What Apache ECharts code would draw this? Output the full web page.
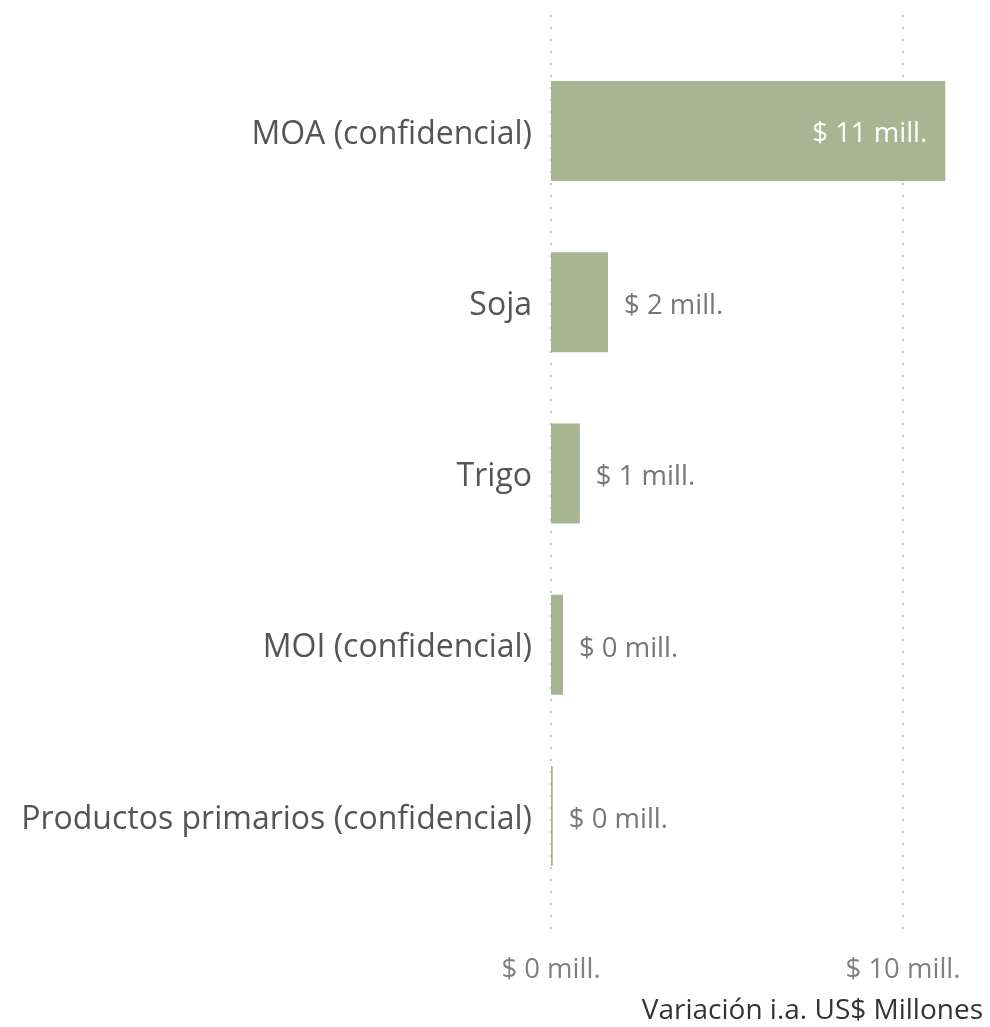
<!DOCTYPE html>
<html>
<head>
<meta charset="utf-8">
<script src="https://cdn.jsdelivr.net/npm/echarts@6/dist/echarts.min.js"></script>
<style>html,body{margin:0;padding:0;background:#fff;}#c{width:990px;height:1027px;}</style>
</head>
<body>
<div id="c"></div>
<script>
const categories = ['MOA (confidencial)', 'Soja', 'Trigo', 'MOI (confidencial)', 'Productos primarios (confidencial)'];
const values = [11.2, 1.62, 0.82, 0.34, 0.05];
const axisTicks = [0, 10];
const axisTitle = 'Variación i.a. US$ Millones';

const FONT = 'Open Sans';
const BAR = '#a7b592';
const fmt = v => '$ ' + Math.round(v) + ' mill.';

const chart = echarts.init(document.getElementById('c'), null, {renderer: 'canvas'});
const PX_PER_UNIT = 35.2;
const LEFT = 551;

chart.setOption({
  animation: false,
  backgroundColor: '#fff',
  title: {
    text: axisTitle, right: 7, top: 994, padding: 0,
    textStyle: {fontFamily: FONT, fontSize: 28, lineHeight: 34, fontWeight: 'normal', color: '#333'}
  },
  grid: [
    {left: LEFT, top: 15, width: PX_PER_UNIT * 10, height: 924},
    {left: LEFT, top: 45.4, width: PX_PER_UNIT * 12, height: 856.25}
  ],
  xAxis: [
    {
      gridIndex: 0, type: 'value', min: axisTicks[0], max: axisTicks[axisTicks.length - 1], interval: 10,
      axisLine: {show: false}, axisTick: {show: false},
      splitLine: {show: true, lineStyle: {color: '#c4c4c4', width: 2, type: [2, 10]}},
      axisLabel: {formatter: fmt, fontFamily: FONT, fontSize: 27.5, color: '#808080', margin: 17}
    },
    {
      gridIndex: 1, type: 'value', min: 0, max: 12, show: false
    }
  ],
  yAxis: [
    {gridIndex: 0, type: 'category', data: [], show: false},
    {
      gridIndex: 1, type: 'category', data: categories, inverse: true,
      axisLine: {show: false}, axisTick: {show: false}, splitLine: {show: false},
      axisLabel: {
        margin: 19,
        formatter: v => '{c|' + v + '}',
        rich: {c: {fontFamily: FONT, fontSize: 32, color: '#555', padding: [7, 0, 0, 0]}}
      }
    }
  ],
  series: [{
    type: 'bar', xAxisIndex: 1, yAxisIndex: 1, barWidth: 100,
    itemStyle: {color: BAR},
    data: values.map(v => ({
      value: v,
      label: v > 5
        ? {show: true, position: 'insideRight', distance: 18, offset: [0, 3], color: '#fff', formatter: p => fmt(p.value), fontFamily: FONT, fontSize: 27.5}
        : {show: true, position: 'right', distance: 16, offset: [0, 4], color: '#777', formatter: p => fmt(p.value), fontFamily: FONT, fontSize: 27.5}
    }))
  }]
});
</script>
</body>
</html>
